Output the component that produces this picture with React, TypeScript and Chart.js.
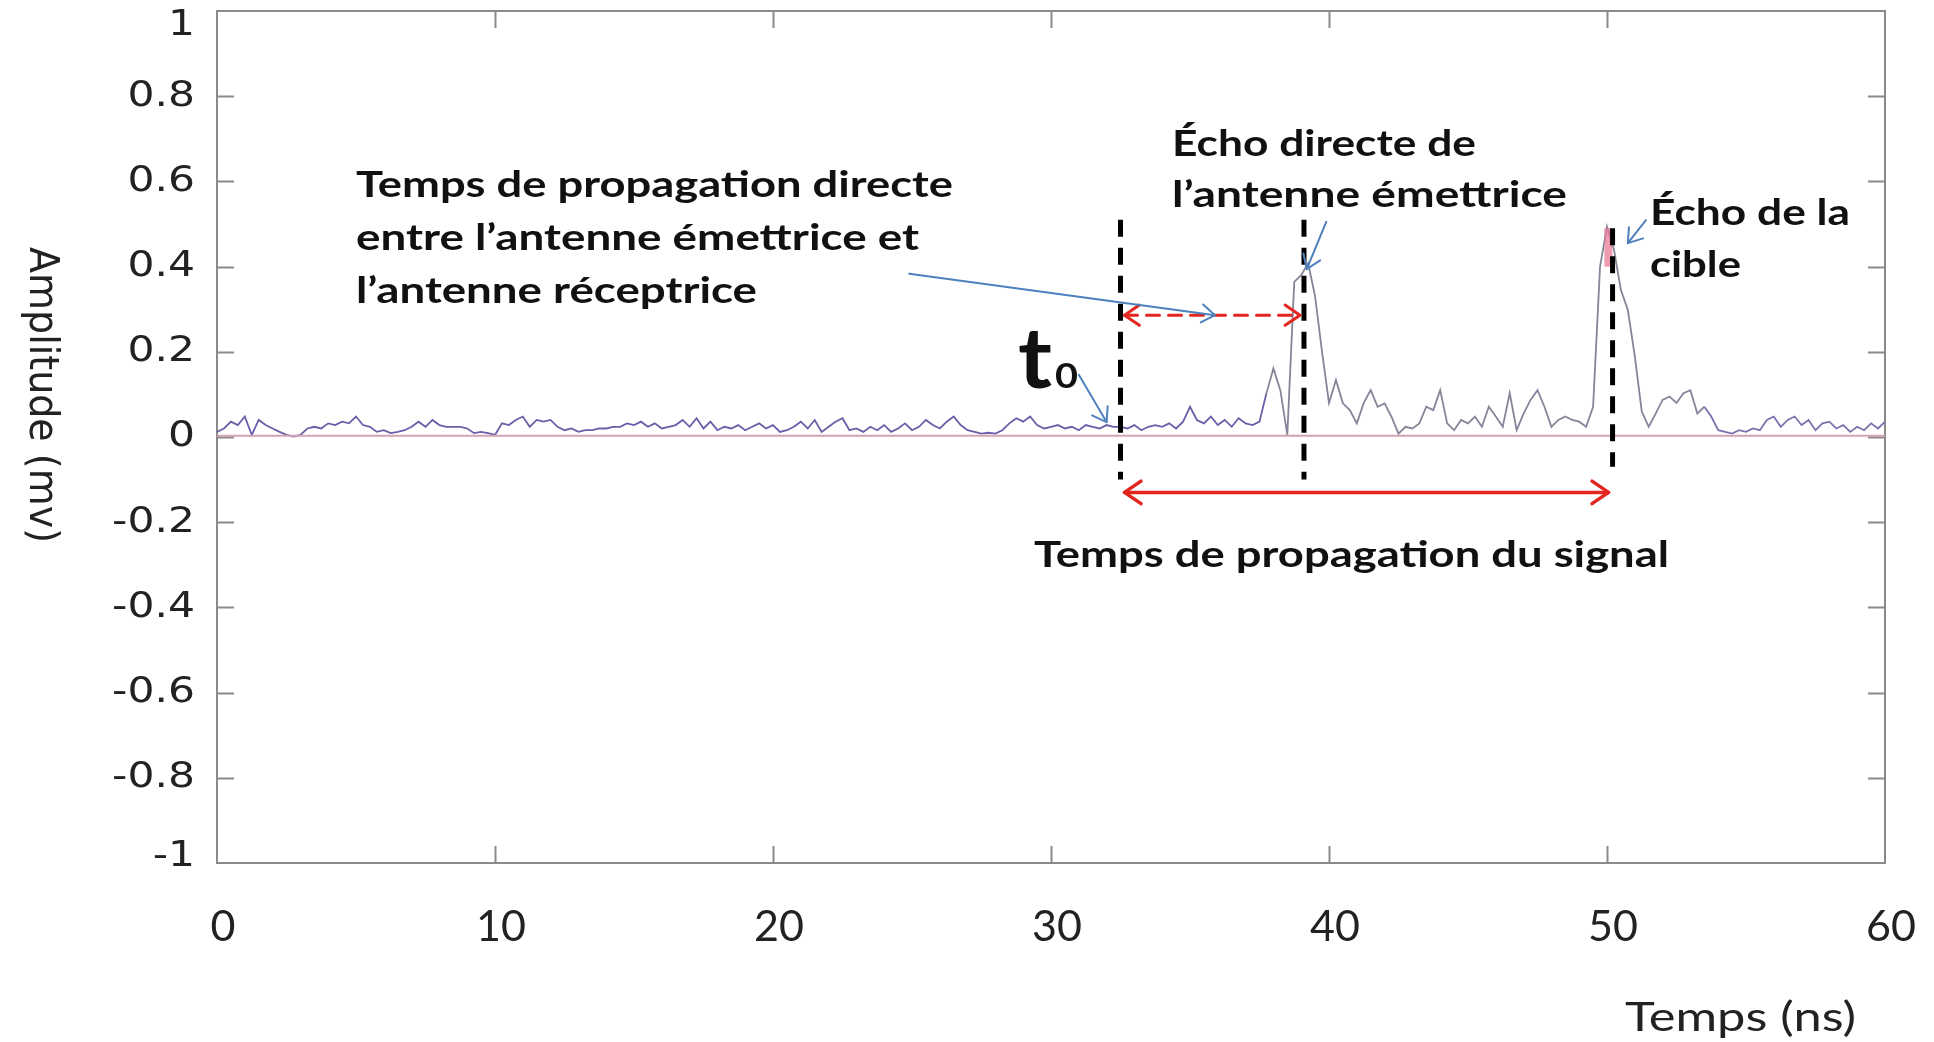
import React, { useEffect, useRef } from 'react';
import { Chart, registerables } from 'chart.js';

Chart.register(...registerables);

const W = 1934;
const H = 1042;

// ---- data ----
const timeStepNs = 0.25; // sampling step of the trace (0 .. 60 ns)
const xTickValues = [0, 10, 20, 30, 40, 50, 60];
const yTickValues = [1, 0.8, 0.6, 0.4, 0.2, 0, -0.2, -0.4, -0.6, -0.8, -1];
const yTickLabels = ['1', '0.8', '0.6', '0.4', '0.2', '0', '-0.2', '-0.4', '-0.6', '-0.8', '-1'];

// received signal amplitude (mV), one value every 0.25 ns
const amplitudeNoise0to16 = [
  0.012, 0.020, 0.036, 0.028, 0.048, 0.005, 0.040, 0.028, 0.020, 0.012,
  0.005, 0.001, 0.005, 0.020, 0.024, 0.020, 0.032, 0.028, 0.036, 0.032,
  0.048, 0.028, 0.024, 0.012, 0.016, 0.009, 0.012, 0.016, 0.024, 0.036,
  0.024, 0.040, 0.028, 0.024, 0.024, 0.024, 0.020, 0.009, 0.012, 0.009,
  0.005, 0.032, 0.028, 0.040, 0.048, 0.024, 0.040, 0.036, 0.040, 0.024,
  0.016, 0.020, 0.012, 0.016, 0.016, 0.020, 0.020, 0.024, 0.024, 0.032,
  0.028, 0.036, 0.024, 0.032, 0.020, 0.024,
];
const amplitudeNoise16to32 = [
  0.028, 0.040, 0.024, 0.044, 0.020, 0.036, 0.016, 0.024, 0.020, 0.028,
  0.016, 0.024, 0.032, 0.020, 0.028, 0.012, 0.016, 0.024, 0.036, 0.020,
  0.040, 0.012, 0.024, 0.036, 0.044, 0.016, 0.020, 0.012, 0.024, 0.016,
  0.028, 0.012, 0.020, 0.032, 0.016, 0.024, 0.040, 0.028, 0.020, 0.036,
  0.048, 0.028, 0.016, 0.012, 0.008, 0.010, 0.008, 0.016, 0.032, 0.044,
  0.036, 0.048, 0.028, 0.020, 0.024, 0.028, 0.020, 0.024, 0.016, 0.028,
  0.024, 0.020, 0.028, 0.024,
];
const amplitudeDirectEcho = [
  0.024, 0.020, 0.028, 0.016, 0.024, 0.028, 0.024, 0.032, 0.020, 0.036,
  0.071, 0.040, 0.032, 0.048, 0.028, 0.040, 0.024, 0.044, 0.032, 0.028,
  0.036, 0.103, 0.161, 0.110, 0.005, 0.364, 0.380, 0.408, 0.330, 0.200,
  0.080, 0.134, 0.079, 0.063, 0.032, 0.080, 0.110, 0.071, 0.079, 0.047,
  0.008, 0.024, 0.020, 0.032, 0.071, 0.063, 0.110, 0.032,
];
const amplitudeTargetEcho = [
  0.016, 0.040, 0.032, 0.048, 0.024, 0.071, 0.048, 0.024, 0.103, 0.016,
  0.055, 0.087, 0.110, 0.071, 0.024, 0.040, 0.048, 0.040, 0.036, 0.024,
  0.071, 0.400, 0.494, 0.440, 0.345, 0.298, 0.190, 0.060, 0.024, 0.055,
  0.087, 0.095, 0.080, 0.103, 0.110, 0.055, 0.071, 0.048, 0.016, 0.012,
  0.008, 0.016, 0.012, 0.020, 0.016, 0.040, 0.048, 0.024, 0.040, 0.048,
  0.028, 0.040, 0.016, 0.032, 0.036, 0.020, 0.028, 0.012, 0.024, 0.016,
  0.032, 0.020, 0.036,
];
const amplitude = [
  ...amplitudeNoise0to16,
  ...amplitudeNoise16to32,
  ...amplitudeDirectEcho,
  ...amplitudeTargetEcho,
];

// reference (transmitted-side) flat trace
const baselineTimes = [0, 60];
const baselineValues = [0.003, 0.003];

// annotation values (data units)
const markerTimesNs = [32.5, 39.1, 50.2];
const markerTops = [0.51, 0.51, 0.49];
const markerBottoms = [-0.1, -0.1, -0.07];

// ---- styles ----
const GRAY = '#8a8a8a';
const RED = '#e3261f';
const BLUE = '#4f81bd';
const TXT = '#111';

function drawText(
  ctx: CanvasRenderingContext2D,
  s: string,
  x: number,
  y: number,
  o: { font: string; width?: number; align?: CanvasTextAlign; baseline?: CanvasTextBaseline; color?: string; sx?: number }
) {
  ctx.save();
  ctx.font = o.font;
  const w = ctx.measureText(s).width;
  const sx = o.width ? o.width / w : o.sx || 1;
  ctx.translate(x, y);
  ctx.scale(sx, 1);
  ctx.textAlign = o.align || 'left';
  ctx.textBaseline = o.baseline || 'middle';
  ctx.fillStyle = o.color || TXT;
  ctx.fillText(s, 0, 0);
  ctx.restore();
}

function head(ctx: CanvasRenderingContext2D, x: number, y: number, ang: number, len: number) {
  const a = 0.6;
  ctx.beginPath();
  ctx.moveTo(x - len * Math.cos(ang - a), y - len * Math.sin(ang - a));
  ctx.lineTo(x, y);
  ctx.lineTo(x - len * Math.cos(ang + a), y - len * Math.sin(ang + a));
  ctx.stroke();
}

function arrow(
  ctx: CanvasRenderingContext2D,
  x1: number, y1: number, x2: number, y2: number,
  o: { color: string; width: number; dash?: number[]; both?: boolean; len: number }
) {
  ctx.save();
  ctx.strokeStyle = o.color;
  ctx.lineWidth = o.width;
  ctx.lineCap = 'round';
  ctx.lineJoin = 'round';
  ctx.setLineDash(o.dash || []);
  ctx.beginPath();
  ctx.moveTo(x1, y1);
  ctx.lineTo(x2, y2);
  ctx.stroke();
  ctx.setLineDash([]);
  const ang = Math.atan2(y2 - y1, x2 - x1);
  head(ctx, x2, y2, ang, o.len);
  if (o.both) head(ctx, x1, y1, ang + Math.PI, o.len);
  ctx.restore();
}

const overlay = {
  id: 'overlay',
  beforeDatasetsDraw(chart: any) {
    const ctx: CanvasRenderingContext2D = chart.ctx;
    const { left, right, top, bottom } = chart.chartArea;
    const xs = chart.scales.x;
    const ys = chart.scales.y;
    ctx.save();
    ctx.strokeStyle = GRAY;
    ctx.lineWidth = 2;
    ctx.strokeRect(left, top, right - left, bottom - top);
    const tl = 17;
    ctx.beginPath();
    xTickValues.forEach((v) => {
      if (v <= 0 || v >= 60) return;
      const px = Math.round(xs.getPixelForValue(v)) + 0.5;
      ctx.moveTo(px, bottom);
      ctx.lineTo(px, bottom - tl);
      ctx.moveTo(px, top);
      ctx.lineTo(px, top + tl);
    });
    yTickValues.forEach((v) => {
      if (v <= -1 || v >= 1) return;
      const py = Math.round(ys.getPixelForValue(v)) + 0.5;
      ctx.moveTo(left, py);
      ctx.lineTo(left + tl, py);
      ctx.moveTo(right, py);
      ctx.lineTo(right - tl, py);
    });
    ctx.stroke();
    ctx.restore();
  },
  afterDatasetsDraw(chart: any) {
    const ctx: CanvasRenderingContext2D = chart.ctx;
    const xs = chart.scales.x;
    const ys = chart.scales.y;
    const X = (v: number) => xs.getPixelForValue(v);
    const Y = (v: number) => ys.getPixelForValue(v);

    // pink highlight on target echo top
    ctx.save();
    ctx.strokeStyle = 'rgba(232,120,150,0.75)';
    ctx.lineWidth = 8;
    ctx.beginPath();
    ctx.moveTo(X(50.05), Y(0.49));
    ctx.lineTo(X(50.05), Y(0.4));
    ctx.stroke();
    ctx.restore();

    // black dashed verticals
    ctx.save();
    ctx.strokeStyle = '#000';
    ctx.lineWidth = 5;
    ctx.setLineDash([17, 11]);
    markerTimesNs.forEach((t, i) => {
      ctx.beginPath();
      ctx.moveTo(X(t), Y(markerTops[i]));
      ctx.lineTo(X(t), Y(markerBottoms[i]));
      ctx.stroke();
    });
    ctx.restore();

    // red arrows
    arrow(ctx, X(markerTimesNs[0]) + 4, Y(0.286), X(markerTimesNs[1]) - 4, Y(0.286), {
      color: RED, width: 3, dash: [13, 9], both: true, len: 18,
    });
    arrow(ctx, X(markerTimesNs[0]) + 4, Y(-0.13), X(markerTimesNs[2]) - 4, Y(-0.13), {
      color: RED, width: 3.5, both: true, len: 20,
    });

    // blue pointer arrows
    const blue = [
      [24.9, 0.383, 35.9, 0.286],
      [31.0, 0.146, 32.0, 0.035],
      [39.9, 0.505, 39.2, 0.394],
      [51.4, 0.509, 50.75, 0.455],
    ];
    blue.forEach(([a, b, c, d]) =>
      arrow(ctx, X(a), Y(b), X(c), Y(d), { color: BLUE, width: 2, len: 16 })
    );
  },
  afterDraw(chart: any) {
    const ctx: CanvasRenderingContext2D = chart.ctx;
    const { top, bottom } = chart.chartArea;
    const xs = chart.scales.x;
    const ys = chart.scales.y;

    // y tick labels
    yTickValues.forEach((v, i) => {
      let py = ys.getPixelForValue(v);
      py = Math.min(Math.max(py, top + 15), bottom - 6);
      drawText(ctx, yTickLabels[i], 195, py, {
        font: '36px "DejaVu Sans"', align: 'right', sx: 1.18, color: '#222',
      });
    });
    // x tick labels
    xTickValues.forEach((v) => {
      drawText(ctx, String(v), xs.getPixelForValue(v) + 6, 927, {
        font: '43px Lato', align: 'center', color: '#222',
      });
    });

    // axis titles
    ctx.save();
    ctx.font = '34px "DejaVu Sans"';
    const tw = ctx.measureText('Amplitude (mv)').width;
    ctx.translate(41, 395);
    ctx.rotate(Math.PI / 2);
    ctx.scale(296 / tw, 1.2);
    ctx.textAlign = 'center';
    ctx.textBaseline = 'middle';
    ctx.fillStyle = '#222';
    ctx.fillText('Amplitude (mv)', 0, 0);
    ctx.restore();
    drawText(ctx, 'Temps (ns)', 1625, 1018, { font: '40px Lato', width: 231, color: '#222' });

    // annotations text
    const bold = 'bold 37px Lato';
    drawText(ctx, 'Temps de propagation directe', 356, 185, { font: bold, width: 597 });
    drawText(ctx, 'entre l’antenne émettrice et', 356, 238, { font: bold, width: 563 });
    drawText(ctx, 'l’antenne réceptrice', 356, 291, { font: bold, width: 401 });
    drawText(ctx, 'Écho directe de', 1172, 144, { font: bold, width: 304 });
    drawText(ctx, 'l’antenne émettrice', 1172, 195, { font: bold, width: 395 });
    drawText(ctx, 'Écho de la', 1650, 213, { font: bold, width: 200 });
    drawText(ctx, 'cible', 1650, 265, { font: bold, width: 91 });
    drawText(ctx, 'Temps de propagation du signal', 1034, 555, { font: bold, width: 635 });
    drawText(ctx, 't', 1018, 388, { font: 'bold 84px Lato', width: 34, baseline: 'alphabetic' });
    drawText(ctx, '0', 1055, 388, { font: 'bold 35px Lato', width: 23, baseline: 'alphabetic' });
  },
};

export default function App() {
  const ref = useRef<HTMLCanvasElement | null>(null);
  useEffect(() => {
    if (!ref.current) return;
    const colorAt = (x: number) =>
      x < 37.6 ? '#6b5ea8' : x < 53.5 ? '#85859a' : '#7b72ad';
    const chart = new Chart(ref.current, {
      type: 'line',
      data: {
        datasets: [
          {
            label: 'Référence',
            data: baselineTimes.map((t, i) => ({ x: t, y: baselineValues[i] })),
            borderColor: '#d3a3b3',
            borderWidth: 2,
            pointRadius: 0,
            tension: 0,
          },
          {
            label: 'Signal reçu',
            data: amplitude.map((v, i) => ({ x: i * timeStepNs, y: v })),
            borderColor: '#6b5ea8',
            borderWidth: 1.8,
            pointRadius: 0,
            tension: 0,
            segment: {
              borderColor: (c: any) => colorAt(c.p0.parsed.x),
            },
          },
        ],
      },
      options: {
        animation: false,
        responsive: false,
        maintainAspectRatio: false,
        devicePixelRatio: 1,
        layout: { padding: { top: 11, right: 49, left: 0, bottom: 0 } },
        plugins: { legend: { display: false }, tooltip: { enabled: false } },
        scales: {
          x: {
            type: 'linear',
            min: 0,
            max: 60,
            ticks: { display: false, stepSize: 10 },
            grid: { display: false, drawTicks: false },
            border: { display: false },
            afterFit: (s: any) => {
              s.height = H - 863 - 0;
            },
          },
          y: {
            type: 'linear',
            min: -1,
            max: 1,
            ticks: { display: false, stepSize: 0.2 },
            grid: { display: false, drawTicks: false },
            border: { display: false },
            afterFit: (s: any) => {
              s.width = 217;
            },
          },
        },
      },
      plugins: [overlay],
    });
    return () => chart.destroy();
  }, []);
  return (
    <div style={{ position: 'fixed', left: 0, top: 0, width: W, height: H, background: '#fff' }}>
      <canvas ref={ref} width={W} height={H} style={{ display: 'block', width: W, height: H }} />
    </div>
  );
}
